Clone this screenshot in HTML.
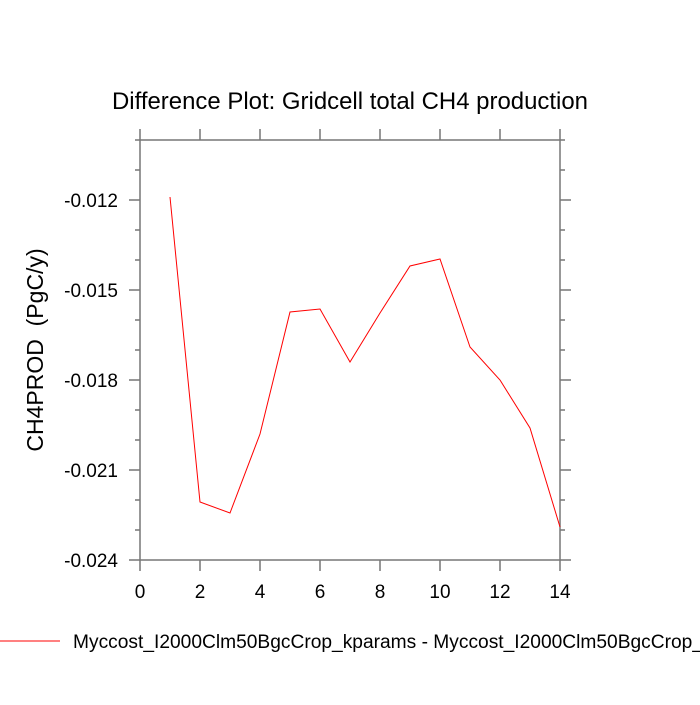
<!DOCTYPE html>
<html><head><style>body{margin:0;background:#fff}</style></head><body>
<svg width="700" height="700" xmlns="http://www.w3.org/2000/svg" font-family="Liberation Sans, sans-serif">
<rect width="700" height="700" fill="#fff"/>
<text x="350" y="109" font-size="24" text-anchor="middle" textLength="476" lengthAdjust="spacingAndGlyphs">Difference Plot: Gridcell total CH4 production</text>
<g stroke="#777" stroke-width="1.5" fill="none">
<rect x="140" y="140" width="420" height="420"/>
<path d="M140 140v-11M200 140v-11M260 140v-11M320 140v-11M380 140v-11M440 140v-11M500 140v-11M560 140v-11
M140 560v11M200 560v11M260 560v11M320 560v11M380 560v11M440 560v11M500 560v11M560 560v11
M140 200h-11M140 290h-11M140 380h-11M140 470h-11M140 560h-11
M560 200h11M560 290h11M560 380h11M560 470h11M560 560h11
M140 140h-5M140 170h-5M140 230h-5M140 260h-5M140 320h-5M140 350h-5M140 410h-5M140 440h-5M140 500h-5M140 530h-5
M560 140h5M560 170h5M560 230h5M560 260h5M560 320h5M560 350h5M560 410h5M560 440h5M560 500h5M560 530h5"/>
</g>
<g font-size="19" text-anchor="end">
<text x="118" y="207">-0.012</text><text x="118" y="297">-0.015</text><text x="118" y="387">-0.018</text><text x="118" y="477">-0.021</text><text x="118" y="567">-0.024</text>
</g>
<g font-size="19" text-anchor="middle">
<text x="140" y="598">0</text><text x="200" y="598">2</text><text x="260" y="598">4</text><text x="320" y="598">6</text><text x="380" y="598">8</text><text x="440" y="598">10</text><text x="500" y="598">12</text><text x="560" y="598">14</text>
</g>
<text transform="translate(43,350) rotate(-90)" font-size="23" text-anchor="middle">CH4PROD&#160;&#160;(PgC/y)</text>
<polyline fill="none" stroke="#f00" stroke-width="1" points="170,197 200,502 230,513 260,434 290,312 320,309 350,362 380,313 410,266 440,259 470,347 500,380 530,428 560,527"/>
<line x1="0" y1="641" x2="60" y2="641" stroke="#f00" stroke-width="1"/>
<text x="73" y="648" font-size="19" textLength="630" lengthAdjust="spacingAndGlyphs">Myccost_I2000Clm50BgcCrop_kparams - Myccost_I2000Clm50BgcCrop_</text>
</svg>
</body></html>
